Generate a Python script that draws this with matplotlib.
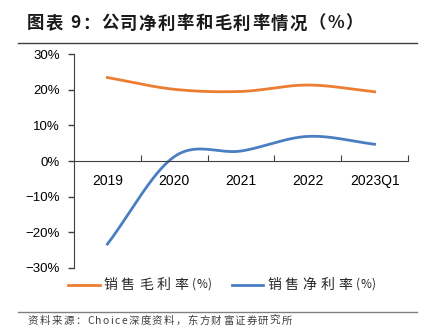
import numpy as np
import matplotlib
matplotlib.use('Agg')
import matplotlib.pyplot as plt
from matplotlib.lines import Line2D

plt.rcParams['font.family'] = ['Liberation Sans', 'Noto Sans CJK SC', 'DejaVu Sans']
CJK = ['Noto Sans CJK SC', 'DejaVu Sans']

years = ['2019', '2020', '2021', '2022', '2023Q1']
gross_margin = [23.4, 20.1, 19.5, 21.3, 19.4]
net_margin = [-23.3, 1.2, 2.8, 6.9, 4.7]
series_names = ['销售毛利率(%)', '销售净利率(%)']
colors = ['#ED7D31', '#4A7EC2']

W, H = 431, 336


def smooth(xs, ys, n=40):
    # catmull-rom style curve through the points, like excel smoothed lines
    xs = np.asarray(xs, float)
    ys = np.asarray(ys, float)
    px = np.concatenate([[2 * xs[0] - xs[1]], xs, [2 * xs[-1] - xs[-2]]])
    py = np.concatenate([[2 * ys[0] - ys[1]], ys, [2 * ys[-1] - ys[-2]]])
    out_x, out_y = [], []
    for i in range(1, len(px) - 2):
        t = np.linspace(0, 1, n)
        for p, out in ((px, out_x), (py, out_y)):
            p0, p1, p2, p3 = p[i - 1], p[i], p[i + 1], p[i + 2]
            out.extend(0.5 * ((2 * p1) + (-p0 + p2) * t
                              + (2 * p0 - 5 * p1 + 4 * p2 - p3) * t ** 2
                              + (-p0 + 3 * p1 - 3 * p2 + p3) * t ** 3))
    return out_x, out_y


def spaced_text(x0, y, s, gap, x1=None, cjk_only=False, ascii_size=None, **kw):
    # place characters one by one to get the wide letter spacing of the original
    r = fig.canvas.get_renderer()
    texts = []
    for ch in s:
        t = fig.text(0, 1 - y / H, ch, va='center', **kw)
        if ascii_size and ord(ch) < 0x2000:
            t.set_fontsize(ascii_size)
        texts.append(t)
    widths = [t.get_window_extent(r).width for t in texts]
    if x1 is not None:
        gap = (x1 - x0 - sum(widths)) / max(len(s) - 1, 1)
    x = x0
    for ch, t, w in zip(s, texts, widths):
        t.set_x(x / W)
        x += w
        if not cjk_only or ord(ch) > 0x2000:
            x += gap


fig = plt.figure(figsize=(W / 100, H / 100), dpi=100)
ax = fig.add_axes([74 / W, 68 / H, 334 / W, 214 / H])

x = np.arange(len(years))
ax.plot(*smooth(x, gross_margin), color=colors[0], lw=2)
ax.plot(*smooth(x, net_margin), color=colors[1], lw=2)

ax.set_xlim(-0.5, len(years) - 0.5)
ax.set_ylim(-30, 30)
ax.set_yticks(range(-30, 31, 10))
ax.set_yticklabels(['\u221230%', '\u221220%', '\u221210%', '0%', '10%', '20%', '30%'], fontsize=9.5)
ax.tick_params(axis='y', length=4, width=1, color='#404040', pad=6)

ax.set_xticks(x + 0.5)
ax.set_xticklabels([])
ax.set_xticks(x, minor=True)
ax.set_xticklabels(years, minor=True, fontsize=9.5)
ax.tick_params(axis='x', which='major', direction='in', length=4, color='#404040')
ax.tick_params(axis='x', which='minor', length=0, pad=9)

for s in ['top', 'right']:
    ax.spines[s].set_visible(False)
ax.spines['bottom'].set_position(('data', 0))
ax.spines['bottom'].set_color('#404040')
ax.spines['left'].set_color('#404040')

# title and rules
spaced_text(27, 23.5, '图表 9：公司净利率和毛利率情况（%）', 1.5, fontsize=12.5,
            fontweight='bold', family=CJK, color='#1a1a1a')
fig.add_artist(Line2D([18 / W, 417 / W], [1 - 43.3 / H] * 2, color='#404040', lw=1))
fig.add_artist(Line2D([18 / W, 417 / W], [1 - 311.5 / H] * 2, color='#808080', lw=1))
spaced_text(28, 321, '资料来源：Choice深度资料，东方财富证券研究所', 0, x1=292,
            fontsize=7.5, family=CJK, color='#404040')

# legend
leg_y = 284.5
for (lx0, lx1, tx0), name, c in zip([(68, 100, 103), (232, 263, 267)], series_names, colors):
    fig.add_artist(Line2D([lx0 / W, lx1 / W], [1 - leg_y / H] * 2, color=c, lw=2))
    spaced_text(tx0, leg_y, name, 4, cjk_only=True, ascii_size=8.5, fontsize=10,
                family=CJK, color='#262626')

fig.savefig('out.png', dpi=100)
